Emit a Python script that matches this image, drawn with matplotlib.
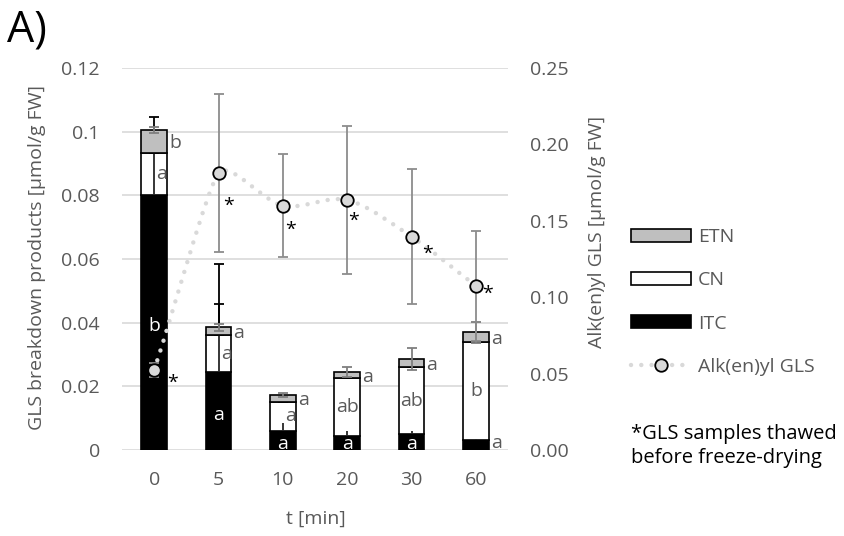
import numpy as np
import matplotlib
matplotlib.use("Agg")
import matplotlib.pyplot as plt
from matplotlib.path import Path
from matplotlib.patches import PathPatch, Patch
from matplotlib.lines import Line2D

plt.rcParams['font.family'] = ['Open Sans', 'DejaVu Sans']

# ---------------- data ----------------
times = ["0", "5", "10", "20", "30", "60"]
itc = [0.0800, 0.0245, 0.0060, 0.0045, 0.0050, 0.0030]
cn = [0.0133, 0.0115, 0.0092, 0.0180, 0.0210, 0.0310]
etn = [0.0072, 0.0025, 0.0021, 0.0020, 0.0026, 0.0030]
itc_err = [0.0245, 0.0340, 0.0026, 0.0015, 0.0010, 0.0003]
cn_err = [0.0037, 0.0100, 0.0005, 0.0005, 0.0005, 0.0005]
etn_err = [0.0010, 0.0010, 0.0007, 0.0017, 0.0035, 0.0033]
gls = [0.0523, 0.1811, 0.1599, 0.1636, 0.1396, 0.1075]
gls_err = [0.0048, 0.0517, 0.0335, 0.0485, 0.0440, 0.0360]

itc_letters = ["b", "a", "a", "a", "a", "a"]
cn_letters = ["a", "a", "a", "ab", "ab", "b"]
etn_letters = ["b", "a", "a", "a", "a", "a"]

left_ticks = [0, 0.02, 0.04, 0.06, 0.08, 0.1, 0.12]
left_labels = ["0", "0.02", "0.04", "0.06", "0.08", "0.1", "0.12"]
right_ticks = [0, 0.05, 0.10, 0.15, 0.20, 0.25]
right_labels = ["0.00", "0.05", "0.10", "0.15", "0.20", "0.25"]

TXT = "#595959"
GRID = "#d9d9d9"
FS = 14

W, H = 845, 536
fig = plt.figure(figsize=(W / 100, H / 100), dpi=100)
ax = fig.add_axes([122 / W, (H - 450) / H, (508 - 122) / W, (450 - 68) / H])

x = np.arange(len(times))
bw = 0.40
itc_a = np.array(itc)
cn_a = np.array(cn)
etn_a = np.array(etn)
cn_bottom = itc_a
etn_bottom = itc_a + cn_a
tops = etn_bottom + etn_a

ax.set_xlim(-0.5, 5.5)
ax.set_ylim(0, 0.12)
ax.set_yticks(left_ticks)
ax.set_yticklabels(left_labels)
ax.grid(axis='y', color=GRID, lw=1.2, zorder=0)
ax.set_axisbelow(True)
for s in ax.spines.values():
    s.set_visible(False)
ax.tick_params(axis='both', length=0, labelsize=FS, colors=TXT)
ax.tick_params(axis='y', pad=16)
ax.tick_params(axis='x', pad=15)
ax.set_xticks(x)
ax.set_xticklabels(times)

ekw = dict(fmt='none', elinewidth=1.3, capsize=3.6, capthick=1.3)
ax.errorbar(x, itc_a, yerr=[np.zeros(6), itc_err], ecolor='black', zorder=2, **ekw)
ax.bar(x, itc_a, bw, color='black', edgecolor='black', lw=1.2, zorder=3)
ax.bar(x, cn_a, bw, bottom=cn_bottom, color='white', edgecolor='black', lw=1.2, zorder=3)
ax.errorbar(x, etn_bottom, yerr=[np.zeros(6), cn_err], ecolor='black', zorder=4, **ekw)
ax.errorbar(x, itc_a, yerr=[np.zeros(6), np.minimum(itc_err, cn_a)], fmt='none',
            ecolor='#262626', elinewidth=1.3, capsize=0, zorder=4)
ax.bar(x, etn_a, bw, bottom=etn_bottom, color='#bfbfbf', edgecolor='black', lw=1.2, zorder=5)
ax.errorbar(x, tops, yerr=etn_err, ecolor='#7f7f7f', zorder=6, **ekw)

# letters
for i in range(6):
    ax.text(x[i] + bw / 2 + 0.03, etn_bottom[i] + etn_a[i] / 2 - 0.0005, etn_letters[i],
            ha='left', va='center', fontsize=FS, color=TXT, zorder=8)
for i in range(6):
    if i == 5:
        ax.text(x[i] + bw / 2 + 0.03, 0.0021, itc_letters[i], ha='left', va='center',
                fontsize=FS, color=TXT, zorder=8)
    else:
        yv = itc_a[i] / 2 - 0.0012 if i < 2 else 0.0020
        ax.text(x[i], yv, itc_letters[i], ha='center', va='center',
                fontsize=FS, color='white', zorder=8)
cn_offsets = [0.12, 0.12, 0.12, 0.0, 0.0, 0.0]
for i in range(6):
    ax.text(x[i] + cn_offsets[i], cn_bottom[i] + cn_a[i] / 2, cn_letters[i], ha='center',
            va='center', fontsize=FS, color=TXT, zorder=8)

# right axis
ax2 = ax.twinx()
ax2.set_ylim(0, 0.25)
ax2.set_xlim(-0.5, 5.5)
ax2.set_yticks(right_ticks)
ax2.set_yticklabels(right_labels)
for s in ax2.spines.values():
    s.set_visible(False)
ax2.tick_params(axis='y', length=0, labelsize=FS, colors=TXT, pad=16)

# smoothed dotted line: Bezier with length-limited tangents computed in display space
fig.canvas.draw()
pts = ax2.transData.transform(np.column_stack([x.astype(float), gls]))
n = len(pts)


def tangent(i):
    if i == 0:
        return (pts[1] - pts[0]) / 3.0
    if i == n - 1:
        return (pts[-1] - pts[-2]) / 3.0
    da = np.linalg.norm(pts[i] - pts[i - 1])
    db = np.linalg.norm(pts[i + 1] - pts[i])
    return (pts[i + 1] - pts[i - 1]) * min(da, db) / (da + db) / 3.0


verts = [pts[0]]
codes = [Path.MOVETO]
for i in range(n - 1):
    c1 = pts[i] + tangent(i)
    c2 = pts[i + 1] - tangent(i + 1)
    verts += [c1, c2, pts[i + 1]]
    codes += [Path.CURVE4, Path.CURVE4, Path.CURVE4]
verts = ax2.transData.inverted().transform(np.array(verts))
patch = PathPatch(Path(verts, codes), facecolor='none', edgecolor='#d9d9d9', lw=3.2,
                  linestyle=(0, (0.01, 2.3)), capstyle='round', zorder=5)
ax2.add_patch(patch)
ax2.errorbar(x, gls, yerr=gls_err, fmt='none', ecolor='#8c8c8c', elinewidth=1.3,
             capsize=3.6, capthick=1.3, zorder=6)
ax2.plot(x, gls, 'o', ms=9, mfc='#d9d9d9', mec='black', mew=1.3, zorder=7, ls='none')

star_dx = [0.28, 0.16, 0.12, 0.10, 0.25, 0.18]
star_dy = [-0.0085, -0.0215, -0.0155, -0.0135, -0.0110, -0.0050]
for i in range(6):
    ax2.text(x[i] + star_dx[i], gls[i] + star_dy[i], "*", ha='center', va='center',
             fontsize=FS, color='black', zorder=8)

# axis labels
fig.text(37 / W, 1 - 257 / H, "GLS breakdown products [µmol/g FW]", rotation=90,
         ha='center', va='center', fontsize=FS, color=TXT)
fig.text(597 / W, 1 - 232 / H, "Alk(en)yl GLS [µmol/g FW]", rotation=90,
         ha='center', va='center', fontsize=FS, color=TXT)
fig.text(316 / W, 1 - 519 / H, "t [min]", ha='center', va='center', fontsize=FS, color=TXT)
fig.text(7 / W, 1 - 30 / H, "A)", ha='left', va='center', fontsize=31, color='black')

# legend
handles = [Patch(facecolor='#bfbfbf', edgecolor='black', lw=1.2),
           Patch(facecolor='white', edgecolor='black', lw=1.2),
           Patch(facecolor='black', edgecolor='black', lw=1.2),
           Line2D([0], [0], color='#d9d9d9', lw=3.2, linestyle=(0, (0.01, 2.3)),
                  dash_capstyle='round', marker='o', ms=9, mfc='#d9d9d9', mec='black', mew=1.3)]
leg = fig.legend(handles, ["ETN", "CN", "ITC", "Alk(en)yl GLS"], loc='upper left',
                 bbox_to_anchor=(631 / W, 1 - 228 / H), frameon=False, fontsize=FS,
                 handlelength=3.1, handleheight=0.65, labelspacing=1.3, handletextpad=0.35,
                 borderaxespad=0, borderpad=0, labelcolor=TXT)

fig.text(631 / W, 1 - 446 / H, "*GLS samples thawed\nbefore freeze-drying", ha='left',
         va='center', fontsize=14.5, color='black', linespacing=1.3)

fig.savefig("out.png", dpi=100)
